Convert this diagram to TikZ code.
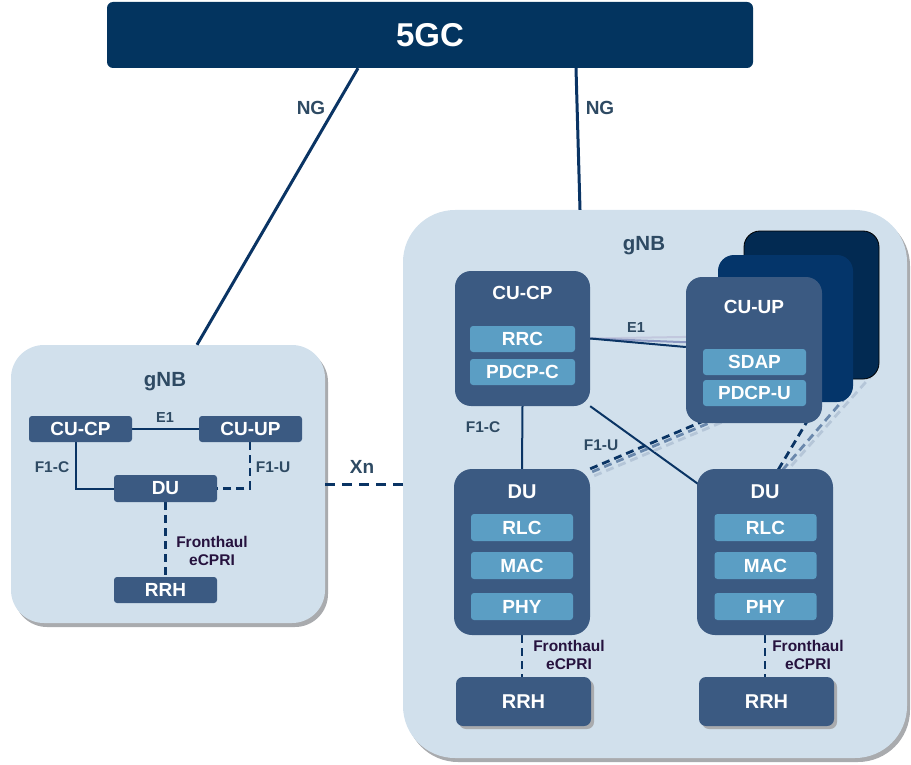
\documentclass[tikz,border=0pt]{standalone}
\usepackage{fontspec}
\setmainfont{Liberation Sans}
\usetikzlibrary{calc,shadows}
\definecolor{coreC}{HTML}{03345F}
\definecolor{contC}{HTML}{D1E0EC}
\definecolor{shadowC}{HTML}{A9ABAE}
\definecolor{boxC}{HTML}{3B5A82}
\definecolor{layC}{HTML}{5B9EC4}
\definecolor{stackB}{HTML}{04356A}
\definecolor{stackC}{HTML}{022A52}
\definecolor{lineC}{HTML}{0A3464}
\definecolor{midC}{HTML}{6A88AC}
\definecolor{lightC}{HTML}{B5C6D8}
\definecolor{eoneB}{HTML}{8E9AC4}
\definecolor{eoneC}{HTML}{C2C8DE}
\definecolor{labC}{HTML}{2E4A63}
\definecolor{fhC}{HTML}{26123E}
\newcommand\myfs[2]{\fontsize{#1}{#2}\selectfont\bfseries}
\pgfdeclarelayer{bg}
\pgfdeclarelayer{links}
\pgfsetlayers{bg,links,main}
\begin{document}
\begin{tikzpicture}[x=1pt,y=-1pt,
  core/.style={fill=coreC, rounded corners=6pt, inner sep=0pt, minimum width=646pt, minimum height=66pt, text=white, font=\myfs{33}{36}},
  cont/.style={fill=contC, inner sep=0pt, drop shadow={shadow xshift=3pt, shadow yshift=-4pt, fill=shadowC, opacity=1}},
  smallbox/.style={fill=boxC, rounded corners=3pt, inner sep=0pt, minimum width=103pt, minimum height=26pt, text=white, font=\myfs{19}{21}},
  bigbox/.style={fill=boxC, rounded corners=16pt, inner sep=0pt},
  layerbox/.style={fill=layC, rounded corners=3pt, inner sep=0pt, minimum height=26pt, text=white, font=\myfs{19}{21}},
  rrhbox/.style={fill=boxC, rounded corners=7pt, inner sep=0pt, minimum width=135pt, minimum height=49pt, text=white, font=\myfs{20}{22}, drop shadow={shadow xshift=3pt, shadow yshift=-3pt, fill=shadowC, opacity=1}},
  boxtitle/.style={text=white, font=\myfs{19}{21}, inner sep=0pt},
  lab/.style={text=labC, font=\myfs{15.5}{17}, inner sep=0pt},
  fh/.style={text=fhC, font=\myfs{15.5}{17.5}, align=center, inner sep=0pt},
  link/.style={draw=lineC, line width=2pt},
  ngline/.style={draw=lineC, line width=3pt},
  dlink/.style={draw=lineC, line width=2.8pt, dash pattern=on 8pt off 5pt},
  xnline/.style={draw=lineC, line width=3pt, dash pattern=on 10pt off 7pt},
]
\useasboundingbox (0,0) rectangle (911,765);

% containers
\begin{pgfonlayer}{bg}
  \node[cont, rounded corners=33pt, minimum width=314pt, minimum height=278pt] (gnbL) at (168,484) {};
  \node[cont, rounded corners=52pt, minimum width=504pt, minimum height=548pt] (gnbR) at (655,484) {};
\end{pgfonlayer}

% core network
\node[core] (core) at (430,35) {5GC};

% left gNB
\node[smallbox] (lcucp) at (80.5,429) {CU-CP};
\node[smallbox] (lcuup) at (250.5,429) {CU-UP};
\node[smallbox, minimum height=27pt] (ldu) at (165.5,488.5) {DU};
\node[smallbox] (lrrh) at (165.5,590) {RRH};

% right gNB: CU-CP
\node[bigbox, minimum width=135pt, minimum height=135pt] (rcucp) at (522.5,338.5) {};
\node[boxtitle] (rcucpT) at ([yshift=-22pt]rcucp.north) {CU-CP};
\node[layerbox, minimum width=105pt] (rrc) at (522.5,339) {RRC};
\node[layerbox, minimum width=105pt] (pdcpc) at (522.5,372) {PDCP-C};

% right gNB: stacked CU-UP instances
\node[bigbox, fill=stackC, draw=black, line width=0.8pt, minimum width=135pt, minimum height=148pt] (cuupC) at (811.5,305) {};
\node[bigbox, fill=stackB, minimum width=135pt, minimum height=147pt] (cuupB) at (785.5,328.5) {};
\node[bigbox, minimum width=136pt, minimum height=146pt] (cuupA) at (754,350) {};
\node[boxtitle] (cuupT) at ([yshift=-30pt]cuupA.north) {CU-UP};
\node[layerbox, minimum width=103pt] (sdap) at (754.5,362) {SDAP};
\node[layerbox, minimum width=103pt] (pdcpu) at (754.5,393) {PDCP-U};

% right gNB: DUs
\node[bigbox, rounded corners=18pt, minimum width=136pt, minimum height=166pt] (du1) at (522,552) {};
\node[boxtitle, font=\myfs{20}{22}] (du1T) at ([yshift=-23pt]du1.north) {DU};
\node[layerbox, minimum width=102pt, minimum height=27pt] (rlc1) at (522,527.5) {RLC};
\node[layerbox, minimum width=102pt, minimum height=27pt] (mac1) at (522,565.5) {MAC};
\node[layerbox, minimum width=102pt, minimum height=27pt] (phy1) at (522,606.5) {PHY};

\node[bigbox, rounded corners=18pt, minimum width=136pt, minimum height=166pt] (du2) at (765,552) {};
\node[boxtitle, font=\myfs{20}{22}] (du2T) at ([yshift=-23pt]du2.north) {DU};
\node[layerbox, minimum width=102pt, minimum height=27pt] (rlc2) at (765.5,527.5) {RLC};
\node[layerbox, minimum width=102pt, minimum height=27pt] (mac2) at (765.5,565.5) {MAC};
\node[layerbox, minimum width=102pt, minimum height=27pt] (phy2) at (765.5,606.5) {PHY};

\node[rrhbox] (rrh1) at (523.5,701.5) {RRH};
\node[rrhbox] (rrh2) at (766.5,701.5) {RRH};

% interface labels
\node[lab, font=\myfs{19}{21}] (ngLt) at (311,108) {NG};
\node[lab, font=\myfs{19}{21}] (ngRt) at (600,108) {NG};
\node[lab, font=\myfs{20.5}{22}] (gnbLt) at (165,382) {gNB};
\node[lab, font=\myfs{20.5}{22}] (gnbRt) at (644,246) {gNB};
\node[lab, font=\myfs{14.5}{16}] (e1L) at (165,418) {E1};
\node[lab] (f1cL) at (52,467) {F1-C};
\node[lab] (f1uL) at (273,467) {F1-U};
\node[fh] (fhL) at (212,551) {Fronthaul\\eCPRI};
\node[lab, font=\myfs{19}{21}] (xnT) at (362,467) {Xn};
\node[lab, font=\myfs{14.5}{16}] (e1R) at (636,328) {E1};
\node[lab] (f1cR) at (483,427) {F1-C};
\node[lab] (f1uR) at (601,445) {F1-U};
\node[fh] (fh1) at (569,655) {Fronthaul\\eCPRI};
\node[fh] (fh2) at (808,655) {Fronthaul\\eCPRI};

% connectors
\begin{pgfonlayer}{links}
  \draw[ngline] ([xshift=-72pt]core.south) -- ([xshift=29pt]gnbL.north);
  \draw[ngline] ([xshift=146pt]core.south) -- ([xshift=-75pt]gnbR.north);
  % left gNB
  \draw[link] (lcucp.east) -- (lcuup.west);
  \draw[link] ([xshift=-4.5pt]lcucp.south) |- (ldu.west);
  \draw[dlink] ([xshift=-0.5pt]lcuup.south) |- (ldu.east);
  \draw[dlink] (ldu.south) -- (lrrh.north);
  % Xn
  \draw[xnline] (gnbL.east) -- (gnbR.west);
  % E1 towards the three CU-UP instances
  \draw[link, draw=eoneC] (rcucp.east) -- ($(cuupC.west)+(0,31)$);
  \draw[link, draw=eoneB] (rcucp.east) -- ($(cuupB.west)+(0,15)$);
  \draw[link] (rcucp.east) -- ($(cuupA.west)+(0,-3)$);
  % F1-C
  \draw[link] (rcucp.south) -- (du1.north);
  \draw[link] (rcucp.south east) -- ($(du2.north west)+(8,20)$);
  % F1-U towards the first DU
  \draw[dlink, draw=lightC] ($(du1.north east)+(4,7)$) -- ($(cuupC.south west)+(16,27)$);
  \draw[dlink, draw=midC] ($(du1.north east)+(2,3)$) -- ($(cuupB.south west)+(22,8)$);
  \draw[dlink] (du1.north east) -- ($(cuupA.south west)+(34,-9)$);
  % F1-U towards the second DU
  \draw[dlink, draw=lightC] ($(cuupC.south east)+(-5,-7)$) -- ($(du2.north)+(21,3)$);
  \draw[dlink, draw=midC] ($(cuupB.south east)+(-6,-7)$) -- ($(du2.north)+(16,3)$);
  \draw[dlink] ($(cuupA.south)+(55,-5)$) -- ($(du2.north)+(12,3)$);
  % fronthaul
  \draw[dlink] (du1.south) -- (du1.south |- rrh1.north);
  \draw[dlink] (du2.south) -- (du2.south |- rrh2.north);
\end{pgfonlayer}
\end{tikzpicture}
\end{document}
